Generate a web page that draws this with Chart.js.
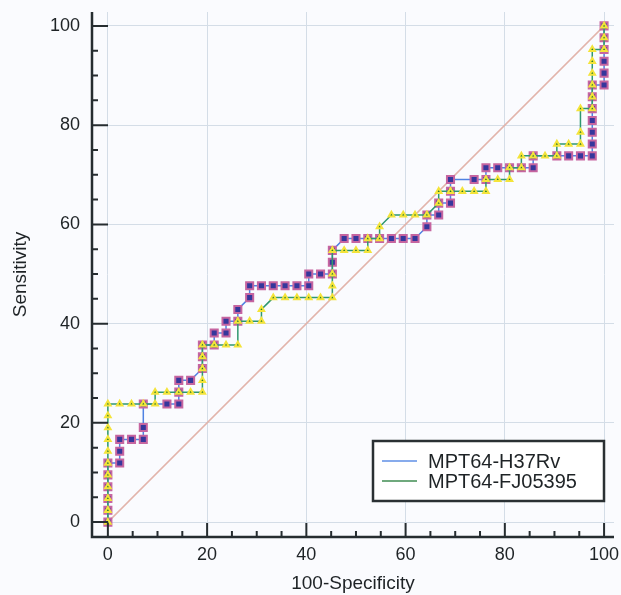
<!DOCTYPE html>
<html>
<head>
<meta charset="utf-8">
<script src="https://cdn.jsdelivr.net/npm/chart.js@4/dist/chart.umd.min.js"></script>
<style>
  html, body { margin: 0; padding: 0; background: #fafbfe; }
  canvas { display: block; }
</style>
</head>
<body>
<canvas id="roc" width="621" height="595"></canvas>
<script>
// ROC points (100-Specificity, Sensitivity)
const seriesNames = ["MPT64-H37Rv", "MPT64-FJ05395"]

const x1 = [0,0,0,0,0,0,2.38,2.38,2.38,4.76,7.14,7.14,7.14,11.9,14.29,14.29,14.29,16.67,19.05,19.05,19.05,21.43,21.43,23.81,23.81,26.19,26.19,28.57,28.57,30.95,33.33,35.71,38.1,40.48,40.48,42.86,45.24,45.24,45.24,47.62,50,52.38,54.76,57.14,59.52,61.9,64.29,64.29,66.67,66.67,69.05,69.05,69.05,73.81,76.19,76.19,78.57,80.95,83.33,85.71,85.71,90.48,92.86,95.24,97.62,97.62,97.62,97.62,97.62,97.62,97.62,100,100,100,100,100,100]
const y1 = [0,2.38,4.76,7.14,9.52,11.9,11.9,14.29,16.67,16.67,16.67,19.05,23.81,23.81,23.81,26.19,28.57,28.57,30.95,33.33,35.71,35.71,38.1,38.1,40.48,40.48,42.86,45.24,47.62,47.62,47.62,47.62,47.62,47.62,50,50,50,52.38,54.76,57.14,57.14,57.14,57.14,57.14,57.14,57.14,59.52,61.9,61.9,64.29,64.29,66.67,69.05,69.05,69.05,71.43,71.43,71.43,71.43,71.43,73.81,73.81,73.81,73.81,73.81,76.19,78.57,80.95,83.33,85.71,88.1,88.1,90.48,92.86,95.24,97.62,100]

const x2 = [0,0,0,0,0,0,0,0,0,0,0,2.38,4.76,7.14,9.52,9.52,11.9,14.29,16.67,19.05,19.05,19.05,19.05,19.05,21.43,23.81,26.19,26.19,28.57,30.95,30.95,33.33,35.71,38.1,40.48,42.86,45.24,45.24,45.24,45.24,47.62,50,52.38,52.38,54.76,54.76,57.14,59.52,61.9,64.29,66.67,66.67,69.05,71.43,73.81,76.19,76.19,78.57,80.95,80.95,83.33,83.33,85.71,88.1,90.48,90.48,92.86,95.24,95.24,95.24,97.62,97.62,97.62,97.62,97.62,97.62,100,100,100]
const y2 = [0,2.38,4.76,7.14,9.52,11.9,14.29,16.67,19.05,21.43,23.81,23.81,23.81,23.81,23.81,26.19,26.19,26.19,26.19,26.19,28.57,30.95,33.33,35.71,35.71,35.71,35.71,40.48,40.48,40.48,42.86,45.24,45.24,45.24,45.24,45.24,45.24,47.62,50,54.76,54.76,54.76,54.76,57.14,57.14,59.52,61.9,61.9,61.9,61.9,64.29,66.67,66.67,66.67,66.67,66.67,69.05,69.05,69.05,71.43,71.43,73.81,73.81,73.81,73.81,76.19,76.19,76.19,78.57,83.33,83.33,85.71,88.1,90.48,92.86,95.24,95.24,97.62,100]

const diagX = [0, 100]
const diagY = [0, 100]
const tickValues = [0, 20, 40, 60, 80, 100]

function toPoints(xs, ys){
    let pts = []
    for (let i = 0; i < xs.length; i++){
        pts.push({x: xs[i], y: ys[i]})
    }
    return pts
}

const textColor = "#1e2326"

// axis spines with inward ticks, plus the boxed legend
const framePlugin = {
    id: "frame",
    afterDatasetsDraw(chart){
        const ctx = chart.ctx
        const a = chart.chartArea
        const xs = chart.scales.x
        const ys = chart.scales.y
        ctx.save()
        ctx.strokeStyle = "#262d30"
        ctx.lineWidth = 2.5
        ctx.beginPath()
        ctx.moveTo(a.left, a.top)
        ctx.lineTo(a.left, a.bottom)
        ctx.lineTo(a.right, a.bottom)
        ctx.stroke()

        ctx.lineWidth = 2
        for (let v = 0; v <= 100; v += 5){
            const major = v % 20 === 0
            const px = xs.getPixelForValue(v)
            const py = ys.getPixelForValue(v)
            ctx.beginPath()
            ctx.moveTo(px, a.bottom)
            ctx.lineTo(px, a.bottom - (major ? 14 : 6))
            ctx.moveTo(a.left, py)
            ctx.lineTo(a.left + (major ? 16 : 6), py)
            ctx.stroke()
        }

        // legend box
        const bx = a.right - 241, by = a.bottom - 96, bw = 231, bh = 60
        ctx.fillStyle = "#ffffff"
        ctx.fillRect(bx, by, bw, bh)
        ctx.strokeStyle = "#2a3033"
        ctx.lineWidth = 2.5
        ctx.strokeRect(bx, by, bw, bh)
        const legendColors = ["#5f8fe6", "#3f8c52"]
        ctx.font = "20px 'Liberation Sans', Arial, sans-serif"
        ctx.textBaseline = "middle"
        ctx.fillStyle = textColor
        seriesNames.forEach((name, i) => {
            const ly = by + 20 + i * 20
            ctx.strokeStyle = legendColors[i]
            ctx.lineWidth = 1.5
            ctx.beginPath()
            ctx.moveTo(bx + 9, ly)
            ctx.lineTo(bx + 44, ly)
            ctx.stroke()
            ctx.fillText(name, bx + 55, ly + 1)
        })
        ctx.restore()
    }
}

const context = document.getElementById("roc").getContext("2d")

const rocChart = new Chart(context, {
    type: "scatter",
    data: {
        datasets: [
            {
                label: seriesNames[1],
                data: toPoints(x2, y2),
                showLine: true,
                borderColor: "#2f9870",
                borderWidth: 1.5,
                pointStyle: "triangle",
                pointRadius: 3.2,
                pointBackgroundColor: "#237a2c",
                pointBorderColor: "#f4e43a",
                pointBorderWidth: 2,
                order: 1
            },
            {
                label: seriesNames[0],
                data: toPoints(x1, y1),
                showLine: true,
                borderColor: "#4f82e3",
                borderWidth: 1.5,
                pointStyle: "rect",
                pointRadius: 5,
                pointBackgroundColor: "#35379c",
                pointBorderColor: "#c665a0",
                pointBorderWidth: 2,
                order: 2
            },
            {
                label: "diagonal",
                data: toPoints(diagX, diagY),
                showLine: true,
                borderColor: "#e2b4ab",
                borderWidth: 1.5,
                pointRadius: 0,
                order: 3
            }
        ]
    },
    options: {
        responsive: false,
        animation: false,
        events: [],
        layout: {
            padding: {top: 12, right: 2, left: 0, bottom: 0}
        },
        plugins: {
            legend: {display: false},
            tooltip: {enabled: false}
        },
        scales: {
            x: {
                type: "linear",
                min: -3.2,
                max: 102,
                afterBuildTicks: (scale) => { scale.ticks = tickValues.map(v => ({value: v})) },
                afterFit: (scale) => {
                    scale.height = 58
                    scale.paddingLeft = 0
                    scale.paddingRight = 0
                },
                border: {display: false},
                grid: {color: "#d4dde7", lineWidth: 1, drawTicks: false},
                ticks: {
                    color: textColor,
                    padding: 7,
                    font: {family: "'Liberation Sans', Arial, sans-serif", size: 18}
                },
                title: {
                    display: true,
                    text: "100-Specificity",
                    color: textColor,
                    padding: {top: 0, bottom: 0},
                    font: {family: "'Liberation Sans', Arial, sans-serif", size: 19}
                }
            },
            y: {
                type: "linear",
                min: -3,
                max: 102.8,
                afterBuildTicks: (scale) => { scale.ticks = tickValues.map(v => ({value: v})) },
                afterFit: (scale) => {
                    scale.width = 92
                    scale.paddingTop = 0
                    scale.paddingBottom = 0
                },
                border: {display: false},
                grid: {color: "#d4dde7", lineWidth: 1, drawTicks: false},
                ticks: {
                    color: textColor,
                    padding: 12,
                    font: {family: "'Liberation Sans', Arial, sans-serif", size: 18}
                },
                title: {
                    display: true,
                    text: "Sensitivity",
                    color: textColor,
                    padding: {top: 9, bottom: 0},
                    font: {family: "'Liberation Sans', Arial, sans-serif", size: 19}
                }
            }
        }
    },
    plugins: [framePlugin]
})
</script>
</body>
</html>
